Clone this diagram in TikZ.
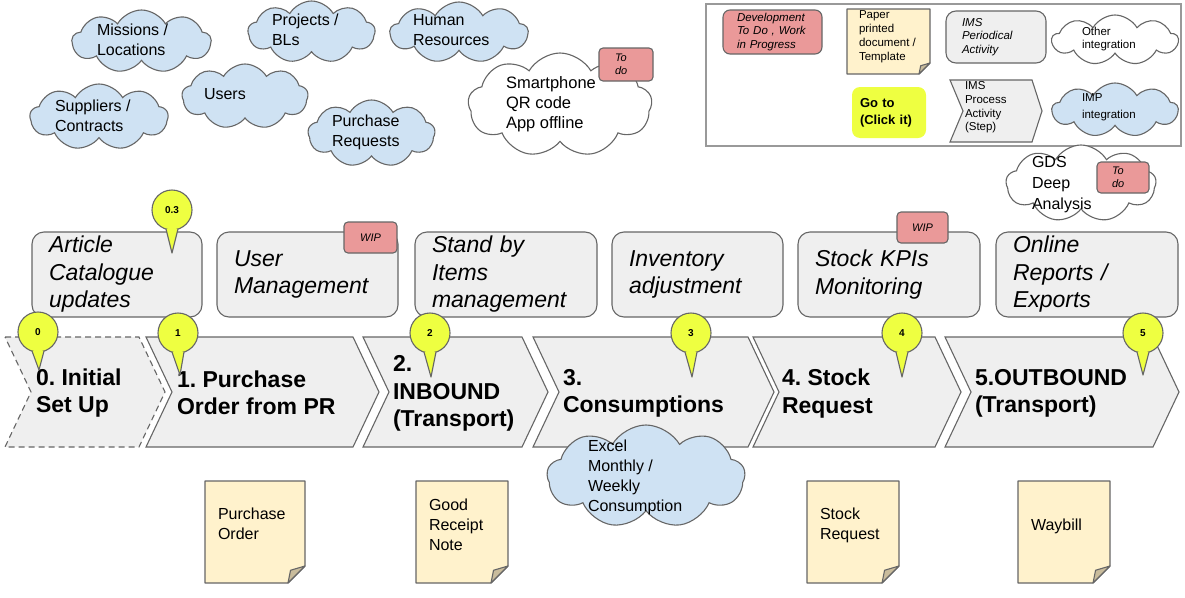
\documentclass[tikz,border=0pt]{standalone}
\usepackage{fontspec}
\setmainfont{Liberation Sans}
\usetikzlibrary{shapes.symbols}
\definecolor{boxgray}{HTML}{EFEFEF}
\definecolor{edge}{HTML}{666666}
\definecolor{pinkred}{HTML}{EA9999}
\definecolor{paper}{HTML}{FFF2CC}
\definecolor{foldc}{HTML}{C9BC9C}
\definecolor{skyblue}{HTML}{CFE2F3}
\definecolor{lime}{HTML}{EEFF41}
\definecolor{framec}{HTML}{999999}
\frenchspacing
\newcommand{\fsz}[2]{\fontsize{#1}{#2}\selectfont}
\newcommand{\stepchev}[3][]{\draw[chev,#1] (#2,337) -- (#3,337) -- (#3+26,392) -- (#3,447) -- (#2,447) -- (#2+26,392) -- cycle;}
\newcommand{\paperdoc}[5]{%
  \filldraw[docline, fill=paper] (#1,#2) -- (#3,#2) -- (#3,#4-#5) -- (#3-#5,#4) -- (#1,#4) -- cycle;
  \filldraw[docline, fill=foldc] (#3,#4-#5) -- (#3-#5,#4) -- (#3-0.85*#5,#4-0.75*#5) -- cycle;}
\newcommand{\balloon}[6]{%
  \node[markc] (#1) at (#2,#3) {#6};
  \filldraw[markline] (#2-6,#3+19) -- (#4,#5) -- (#2+6,#3+19);}
\begin{document}
\begin{tikzpicture}[x=1pt,y=-1pt,
  every node/.style={inner sep=0pt, outer sep=0pt},
  chev/.style={draw=edge, fill=boxgray, line width=1.1pt, line join=miter},
  steptext/.style={font=\bfseries\fsz{23}{27.5}, align=left, anchor=west},
  actbox/.style={draw=edge, fill=boxgray, line width=1.1pt, rounded corners=12pt, minimum height=85pt, inner xsep=17pt, align=left, font=\itshape\fsz{23}{27.5}},
  tagbox/.style={draw=edge, fill=pinkred, line width=1.1pt, rounded corners=4pt, font=\itshape\fsz{11}{13.3}},
  cloudb/.style={cloud, cloud puffs=9, cloud puff arc=120, cloud ignores aspect, draw=edge, fill=skyblue, line width=1.1pt},
  cloudw/.style={cloudb, fill=white},
  ctext/.style={font=\fsz{16}{20}, align=left, anchor=north west},
  ltext/.style={font=\fsz{11.5}{13.6}, align=left},
  docline/.style={draw=edge, line width=1.1pt, line join=round},
  dtext/.style={font=\fsz{16}{20}, align=left, anchor=north west},
  markc/.style={circle, minimum size=40pt, draw=edge, fill=lime, line width=1.1pt, font=\bfseries\fsz{10}{12}},
  markline/.style={draw=edge, fill=lime, line width=1.1pt, line join=round}
]
\useasboundingbox (0,0) rectangle (1185,597);

% ---- top clouds ----
\node[cloudb, minimum width=139pt, minimum height=63pt] (cmis) at (141.5,41.5) {};
\node[ctext] (tmis) at (97,24.4) {Missions /\\Locations};
\node[cloudb, minimum width=127pt, minimum height=62pt] (cproj) at (311.5,32) {};
\node[ctext] (tproj) at (272,14.4) {Projects /\\BLs};
\node[cloudb, minimum width=138pt, minimum height=61pt] (chr) at (459,32.5) {};
\node[ctext] (thr) at (413,14.4) {Human\\Resources};
\node[cloudb, minimum width=126pt, minimum height=65pt] (cusers) at (245,96.5) {};
\node[ctext] (tusers) at (204,88.4) {Users};
\node[cloudb, minimum width=138pt, minimum height=66pt] (csup) at (99,117) {};
\node[ctext] (tsup) at (55,100.4) {Suppliers /\\Contracts};
\node[cloudb, minimum width=127pt, minimum height=67pt] (cpr) at (371.5,133.5) {};
\node[ctext] (tpr) at (332,115.4) {Purchase\\Requests};
\node[cloudw, minimum width=184pt, minimum height=104pt] (csmart) at (560,105) {};
\node[ctext, font=\fsz{16.5}{20}] (tsmart) at (506,76.1) {Smartphone\\QR code\\App offline};
\node[tagbox, text width=22pt, inner xsep=16pt, minimum height=33pt, align=left] (tagS) at (626,64.5) {To\\do};

% ---- legend ----
\node[draw=framec, line width=1.5pt, minimum width=475pt, minimum height=142pt] (legend) at (943.5,75) {};
\node[tagbox, rounded corners=7pt, text width=71pt, inner xsep=14pt, minimum height=44pt, align=left, font=\itshape\fsz{11.5}{13.5}] (ldev) at (772.5,32) {Development\\To Do , Work\\in Progress};
\paperdoc{847}{9}{930}{74}{11}
\node[ltext, anchor=north west, font=\fsz{11.5}{14}] (lpaper) at (859,10.7) {Paper\\printed\\document /\\Template};
\node[draw=edge, fill=boxgray, line width=1.1pt, rounded corners=10pt, text width=68pt, inner xsep=16pt, minimum height=52pt, align=left, font=\itshape\fsz{11.5}{13.5}] (lims) at (996,37) {IMS\\Periodical\\Activity};
\node[cloudw, minimum width=126pt, minimum height=50pt] (lother) at (1115,40) {};
\node[ltext, anchor=north west, font=\fsz{11.5}{13.3}] (tother) at (1082,26.7) {Other\\integration};
\node[fill=lime, rounded corners=8pt, text width=58pt, inner xsep=8pt, minimum height=51pt, align=left, font=\bfseries\fsz{13}{17}] (lgo) at (889,112.5) {Go to\\(Click it)};
\draw[chev] (950,80) -- (1032,80) -- (1042,111) -- (1032,142) -- (950,142) -- (963,111) -- cycle;
\node[ltext, anchor=north west, font=\fsz{11.5}{13.7}] (lstep) at (965,81.7) {IMS\\Process\\Activity\\(Step)};
\node[cloudb, minimum width=126pt, minimum height=54pt] (limp) at (1115,110) {};
\node[ltext, anchor=north west, font=\fsz{11.5}{17}] (timp) at (1082,93.7) {IMP\\integration};

% ---- GDS cloud ----
\node[cloudw, minimum width=150pt, minimum height=77pt] (cgds) at (1081,183.5) {};
\node[ctext, font=\fsz{16}{21}] (tgds) at (1032,156.4) {GDS\\Deep\\Analysis};
\node[tagbox, text width=22pt, inner xsep=15pt, minimum height=31pt, align=left] (tagG) at (1123,177.5) {To\\do};

% ---- activity boxes ----
\node[actbox, text width=136pt] (bA) at (117,274.5) {Article\\Catalogue\\updates};
\node[actbox, text width=147pt] (bU) at (307.5,274.5) {User\\Management};
\node[actbox, text width=148pt] (bS) at (506,274.5) {Stand by\\Items\\management};
\node[actbox, text width=137pt] (bI) at (697.5,274.5) {Inventory\\adjustment};
\node[actbox, text width=148pt] (bK) at (889,274.5) {Stock KPIs\\Monitoring};
\node[actbox, text width=148pt] (bO) at (1087,274.5) {Online\\Reports /\\Exports};
\node[tagbox, minimum width=53pt, minimum height=31pt] (tagU) at (370.5,237.5) {WIP};
\node[tagbox, minimum width=51pt, minimum height=31pt] (tagK) at (922.5,227.5) {WIP};

% ---- process chevrons ----
\stepchev[dash pattern=on 6pt off 4pt]{5}{139}
\stepchev{146}{353}
\stepchev{363}{522}
\stepchev{533}{748}
\stepchev{753}{935}
\stepchev{945}{1153}
\node[steptext] (s0) at (36,393) {0. Initial\\Set Up};
\node[steptext] (s1) at (177,393) {1. Purchase\\Order from PR};
\node[steptext] (s2) at (393,393.5) {2.\\INBOUND\\(Transport)};
\node[steptext] (s3) at (563,393.5) {3.\\Consumptions};
\node[steptext] (s4) at (782,393.5) {4. Stock\\Request};
\node[steptext] (s5) at (975,393.5) {5.OUTBOUND\\(Transport)};

% ---- Excel cloud ----
\node[cloudb, minimum width=198pt, minimum height=103pt] (cexcel) at (646,476.5) {};
\node[ctext] (texcel) at (588,439.5) {Excel\\Monthly /\\Weekly\\Consumption};

% ---- documents ----
\paperdoc{205}{481}{305}{583}{17}
\node[dtext] (dpo) at (218,507.4) {Purchase\\Order};
\paperdoc{416}{481}{508}{583}{17}
\node[dtext] (dgrn) at (429,498.4) {Good\\Receipt\\Note};
\paperdoc{807}{481}{899}{583}{17}
\node[dtext] (dsr) at (820,507.4) {Stock\\Request};
\paperdoc{1018}{481}{1110}{583}{17}
\node[dtext] (dwb) at (1031,518.4) {Waybill};

% ---- markers ----
\balloon{m03}{172}{210}{172}{253}{0.3}
\balloon{m0}{38}{332}{39}{370}{0}
\balloon{m1}{178}{333}{180}{375}{1}
\balloon{m2}{430}{333}{431}{377}{2}
\balloon{m3}{691}{333}{692}{377}{3}
\balloon{m4}{902}{333}{902}{377}{4}
\balloon{m5}{1143}{333}{1143}{375}{5}
\end{tikzpicture}
\end{document}
